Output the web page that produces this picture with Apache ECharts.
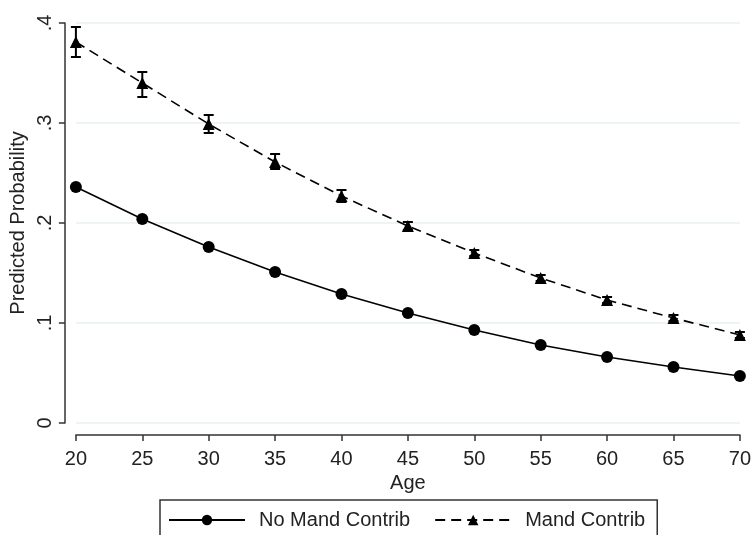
<!DOCTYPE html>
<html><head><meta charset="utf-8">
<script src="https://cdn.jsdelivr.net/npm/echarts@6/dist/echarts.min.js"></script>
<style>html,body{margin:0;padding:0;background:#fff}#c{width:754px;height:535px}</style>
</head><body><div id="c"></div>
<script>
const ages = [20, 25, 30, 35, 40, 45, 50, 55, 60, 65, 70];
const noMand = [0.236, 0.204, 0.176, 0.151, 0.129, 0.110, 0.093, 0.078, 0.066, 0.056, 0.047];
const mand = [0.381, 0.340, 0.299, 0.261, 0.227, 0.197, 0.170, 0.145, 0.123, 0.105, 0.088];
const mandLow = [0.366, 0.326, 0.290, 0.254, 0.221, 0.193, 0.167, 0.142, 0.120, 0.102, 0.085];
const mandHigh = [0.396, 0.351, 0.308, 0.269, 0.233, 0.201, 0.173, 0.148, 0.126, 0.108, 0.091];
const seriesNames = ['No Mand Contrib', 'Mand Contrib'];

const font = 'Liberation Sans, Arial, sans-serif';
const chart = echarts.init(document.getElementById('c'));
const errData = ages.map((a, i) => [a, mandLow[i], mandHigh[i]]);
chart.setOption({
  backgroundColor: '#fff',
  animation: false,
  grid: { left: 73, right: 12, top: 23, bottom: 112 },
  xAxis: {
    type: 'value', min: 20, max: 70, interval: 5, offset: 12,
    name: 'Age', nameLocation: 'middle', nameGap: 34,
    nameTextStyle: { fontFamily: font, fontSize: 20, color: '#222' },
    axisLine: { show: true, onZero: false, lineStyle: { color: '#333', width: 1.5 } },
    axisTick: { show: true, length: 6, lineStyle: { color: '#333', width: 1.5 } },
    axisLabel: { fontFamily: font, fontSize: 20, color: '#222', margin: 14 },
    splitLine: { show: false }
  },
  yAxis: {
    type: 'value', min: 0, max: 0.4, interval: 0.1, offset: 11,
    name: 'Predicted Probability', nameLocation: 'middle', nameGap: 36,
    nameTextStyle: { fontFamily: font, fontSize: 20, color: '#222' },
    axisLine: { show: true, lineStyle: { color: '#333', width: 1.5 } },
    axisTick: { show: true, length: 6, lineStyle: { color: '#333', width: 1.5 } },
    axisLabel: { fontFamily: font, fontSize: 20, color: '#222', rotate: 90, margin: 9,
      formatter: v => v === 0 ? '0' : String(Math.round(v * 10) / 10).replace(/^0/, '') },
    splitLine: { show: true, lineStyle: { color: '#e8f1f2', width: 1.5 } }
  },
  legend: {
    data: seriesNames, top: 500, left: 160,
    borderColor: '#333', borderWidth: 1.5, padding: [10, 12, 10, 8],
    itemWidth: 76, itemHeight: 13, itemGap: 24,
    textStyle: { fontFamily: font, fontSize: 20, color: '#222', padding: [0, 0, 0, 9] }
  },
  series: [
    {
      name: 'Mand CI', type: 'custom', clip: false, z: 3,
      data: errData,
      renderItem: (params, api) => {
        const x = api.value(0);
        const lo = api.coord([x, api.value(1)]);
        const hi = api.coord([x, api.value(2)]);
        const w = 5;
        const st = { stroke: '#000', lineWidth: 2 };
        return { type: 'group', children: [
          { type: 'line', shape: { x1: lo[0], y1: lo[1], x2: hi[0], y2: hi[1] }, style: st },
          { type: 'line', shape: { x1: lo[0] - w, y1: lo[1], x2: lo[0] + w, y2: lo[1] }, style: st },
          { type: 'line', shape: { x1: hi[0] - w, y1: hi[1], x2: hi[0] + w, y2: hi[1] }, style: st }
        ]};
      }
    },
    {
      name: seriesNames[0], type: 'line', z: 4,
      data: ages.map((a, i) => [a, noMand[i]]),
      symbol: 'circle', symbolSize: 12, showSymbol: true,
      lineStyle: { color: '#000', width: 1.6 },
      itemStyle: { color: '#000' }
    },
    {
      name: seriesNames[1], type: 'line', z: 4,
      data: ages.map((a, i) => [a, mand[i]]),
      symbol: 'triangle', symbolSize: 12, showSymbol: true,
      lineStyle: { color: '#000', width: 1.6, type: [10, 6] },
      itemStyle: { color: '#000' }
    }
  ]
});
</script></body></html>
